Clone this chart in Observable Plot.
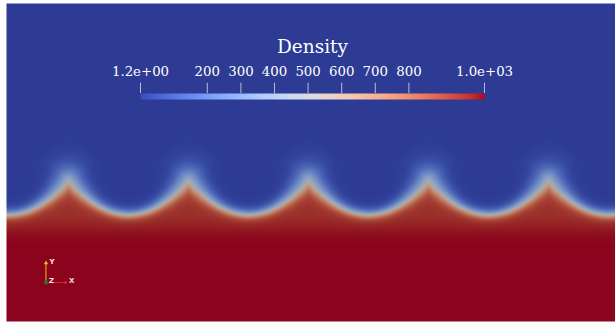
<!DOCTYPE html>
<html>
<head>
<meta charset="utf-8">
<script src="https://cdn.jsdelivr.net/npm/d3@7"></script>
<script src="https://cdn.jsdelivr.net/npm/@observablehq/plot@0.6"></script>
<style>
  html, body { margin: 0; padding: 0; background: #fff; }
  #chart { position: relative; width: 615px; height: 324px; }
  #chart svg { position: absolute; left: 0; top: 0; }
</style>
</head>
<body>
<div id="chart"></div>
<script>
// Densities of the light and heavy fluid (kg/m^3)
const densityMin = 1.2;
const densityMax = 1025;
// Density just beneath the interface, above the deep heavy layer
const densityUpper = 960;

// Domain extent, in wavelengths
const domainWidth = 5.075;
const domainHeight = 2.65;

// Interface crests and troughs, in wavelengths
const crestX = [0.517, 1.517, 2.517, 3.517, 4.517];
const crestY = [1.175, 1.175, 1.175, 1.175, 1.175];
const troughX = [0.017, 1.017, 2.017, 3.017, 4.017, 5.017];
const troughY = [0.89, 0.89, 0.89, 0.89, 0.89, 0.89];
// Diffuse thickness on the light side and on the heavy side (troughs, crests)
const lightThickness = [0.025, 0.066];
const heavyThickness = [0.02, 0.04];
// Level and thickness of the deep heavy layer
const deepLevel = 0.79;
const deepThickness = 0.045;

// "Cool to Warm" colour map, 33 evenly spaced stops
const coolWarm = [
  "#3b4cc0", "#445acc", "#4d68d7", "#5775e1", "#6282ea", "#6c8ef1", "#779af7", "#82a5fb",
  "#8db0fe", "#98b9ff", "#a3c2ff", "#aec9fd", "#b8d0f9", "#c2d5f4", "#ccd9ee", "#d5dbe6",
  "#dddddd", "#e5d8d1", "#ecd3c5", "#f1ccb9", "#f5c4ad", "#f7bba0", "#f7b194", "#f7a687",
  "#f49a7b", "#f18d6f", "#ec7f63", "#e57058", "#de604d", "#d55042", "#cb3e38", "#c0282f",
  "#b40426"
];
// Brightness of the lit surface relative to the colour map
const shading = 0.77;

// Colour bar
const colorbarTitle = "Density";
const tickValues = [1.2, 200, 300, 400, 500, 600, 700, 800, 1025];
const tickLabels = ["1.2e+00", "200", "300", "400", "500", "600", "700", "800", "1.0e+03"];

// Orientation axes (origin and length in wavelengths)
const triadOrigin = [0.329, 0.325];
const triadLength = 0.162;
const triadAxes = ["X", "Y"];
const triadDX = [1, 0];
const triadDY = [0, 1];
const triadColors = ["#d42222", "#e8c020"];
const triadLabelColors = ["#f4d8d8", "#f4f0c8"];

const colorStops = coolWarm.map((_, i) => densityMin + (densityMax - densityMin) * i / (coolWarm.length - 1));
const shaded = coolWarm.map(c => {
  const k = d3.rgb(c);
  return d3.rgb(k.r * shading, k.g * shading, k.b * shading).formatHex();
});

const logistic = z => 1 / (1 + Math.exp(-z));

// Interface height: parabolic arcs hanging between the crests
function interfaceAt(x) {
  const k = d3.minIndex(troughX, t => Math.abs(t - x));
  const xt = troughX[k], yt = troughY[k];
  const right = crestX.findIndex(c => c > xt);
  const left = right === -1 ? crestX.length - 1 : right - 1;
  let j = x >= xt ? right : left;
  if (j < 0) j = x >= xt ? left : right;
  const half = Math.abs(crestX[j] - xt);
  const s = Math.min(1, Math.abs(x - xt) / half);
  return {h: yt + (crestY[j] - yt) * s * s, s};
}

// Interface polyline, used for distances
const curveN = 1200;
const curve = d3.range(curveN + 1).map(i => {
  const x = domainWidth * i / curveN;
  return {x, ...interfaceAt(x)};
});
const searchRadius = 0.3;

function density(x, y) {
  const here = interfaceAt(x);
  const above = y > here.h;
  let dist = Math.abs(y - here.h), s = here.s;
  if (dist < 0.4) {
    const i0 = Math.max(0, Math.floor((x - searchRadius) / domainWidth * curveN));
    const i1 = Math.min(curveN, Math.ceil((x + searchRadius) / domainWidth * curveN));
    for (let i = i0; i <= i1; ++i) {
      const p = curve[i];
      const d = Math.hypot(p.x - x, p.h - y);
      if (d < dist) dist = d, s = p.s;
    }
  }
  const t = s ** 3;
  const heavy = above
    ? logistic(-dist / (lightThickness[0] + (lightThickness[1] - lightThickness[0]) * t))
    : logistic(dist / (heavyThickness[0] + (heavyThickness[1] - heavyThickness[0]) * t));
  const deep = logistic((deepLevel - y) / deepThickness);
  return densityMin + heavy * ((densityUpper - densityMin) + (densityMax - densityUpper) * deep);
}

const field = Plot.plot({
  width: 615,
  height: 324,
  marginLeft: 6,
  marginRight: 0,
  marginTop: 3,
  marginBottom: 3,
  style: {background: "white"},
  x: {domain: [0, domainWidth], axis: null},
  y: {domain: [0, domainHeight], axis: null},
  color: {type: "linear", domain: colorStops, range: shaded, interpolate: "rgb", clamp: true},
  marks: [
    Plot.raster({x1: 0, x2: domainWidth, y1: 0, y2: domainHeight, fill: density, pixelSize: 1}),
    Plot.link(triadAxes, {
      x1: triadOrigin[0], y1: triadOrigin[1],
      x2: (d, i) => triadOrigin[0] + triadDX[i] * triadLength,
      y2: (d, i) => triadOrigin[1] + triadDY[i] * triadLength,
      stroke: (d, i) => triadColors[i], strokeWidth: 1
    }),
    Plot.dot(triadAxes, {
      x: (d, i) => triadOrigin[0] + triadDX[i] * triadLength,
      y: (d, i) => triadOrigin[1] + triadDY[i] * triadLength,
      symbol: (d, i) => i === 1 ? "triangle" : "circle",
      r: 1.6, fill: (d, i) => triadColors[i], stroke: "none"
    }),
    Plot.dot(["Z"], {x: triadOrigin[0], y: triadOrigin[1], r: 2, fill: "#1e7a26", stroke: "none"}),
    Plot.text(triadAxes, {
      x: (d, i) => triadOrigin[0] + triadDX[i] * triadLength,
      y: (d, i) => triadOrigin[1] + triadDY[i] * triadLength,
      dx: 3.5, dy: -1.5, textAnchor: "start",
      fill: (d, i) => triadLabelColors[i], fontSize: 7, fontWeight: "bold", fontFamily: "DejaVu Sans"
    }),
    Plot.text(["Z"], {
      x: triadOrigin[0], y: triadOrigin[1], dx: 3, dy: -1.5, textAnchor: "start",
      fill: "#f0e8e8", fontSize: 7, fontWeight: "bold", fontFamily: "DejaVu Sans"
    })
  ]
});

const colorbar = Plot.plot({
  width: 615,
  height: 100,
  marginLeft: 140,
  marginRight: 131,
  marginTop: 93,
  marginBottom: 1,
  style: {background: "transparent", overflow: "visible", fontFamily: "DejaVu Serif"},
  x: {domain: [densityMin, densityMax], axis: null},
  y: {domain: [0, 1], axis: null},
  color: {type: "linear", domain: colorStops, range: coolWarm, interpolate: "rgb", clamp: true},
  marks: [
    Plot.raster({x1: densityMin, x2: densityMax, y1: 0, y2: 1, fill: (x) => x, pixelSize: 1}),
    Plot.ruleX(tickValues, {y1: 1, y2: 2.7, stroke: "#b8bcd0", strokeWidth: 1}),
    Plot.text(tickLabels, {
      x: tickValues, frameAnchor: "top", dy: -17.5, lineAnchor: "bottom",
      fill: "white", fontSize: 13.3
    }),
    Plot.text([colorbarTitle], {
      frameAnchor: "top", dy: -41, lineAnchor: "bottom", fill: "white", fontSize: 18.5
    })
  ]
});

const chart = document.getElementById("chart");
chart.append(field, colorbar);
</script>
</body>
</html>
